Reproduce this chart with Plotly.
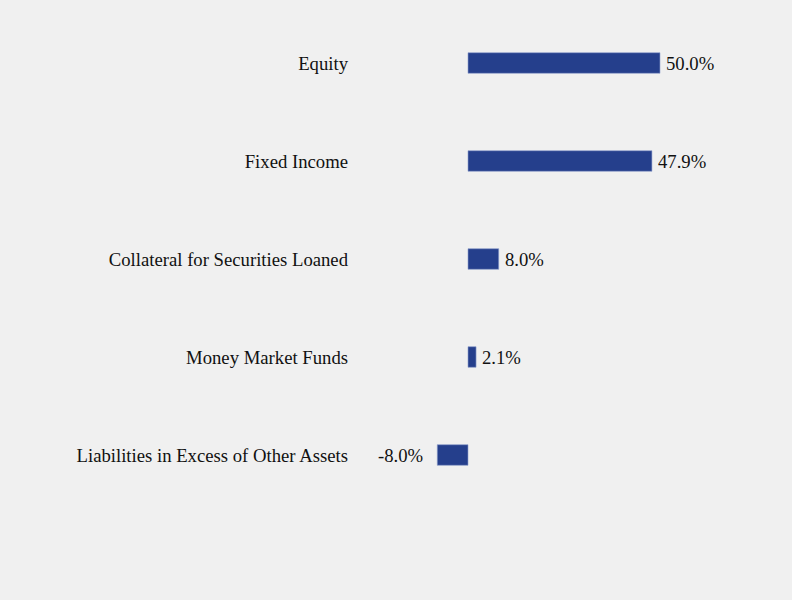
import plotly.graph_objects as go

categories = ["Equity", "Fixed Income", "Collateral for Securities Loaned",
              "Money Market Funds", "Liabilities in Excess of Other Assets"]
values = [50.0, 47.9, 8.0, 2.1, -8.0]
labels = [f"{v:.1f}%" for v in values]

FONT = "Liberation Serif, Times New Roman, serif"

fig = go.Figure(go.Bar(
    x=values, y=categories, orientation="h",
    marker=dict(color="#253f8c", line=dict(color="#8fa0cc", width=0.6)),
    width=0.21,
    hoverinfo="x+y",
))

for c, v, t in zip(categories, values, labels):
    fig.add_annotation(
        x=v, y=c, text=t, showarrow=False,
        xanchor="left" if v >= 0 else "right",
        xshift=4 if v >= 0 else -12, yshift=0,
        font=dict(family=FONT, size=18.7, color="#111111"),
    )

fig.update_layout(
    width=792, height=600,
    paper_bgcolor="#f0f0f0", plot_bgcolor="#f0f0f0",
    margin=dict(l=360, r=20, t=14, b=96),
    font=dict(family=FONT, size=18.7, color="#111111"),
    showlegend=False,
    xaxis=dict(range=[-28.125, 79.17], visible=False, showgrid=False, zeroline=False),
    yaxis=dict(categoryorder="array", categoryarray=categories, autorange=False,
               range=[4.5, -0.5], showgrid=False, zeroline=False, ticks="",
               ticklabelstandoff=11, showline=False),
)

fig.write_html("out.html")
